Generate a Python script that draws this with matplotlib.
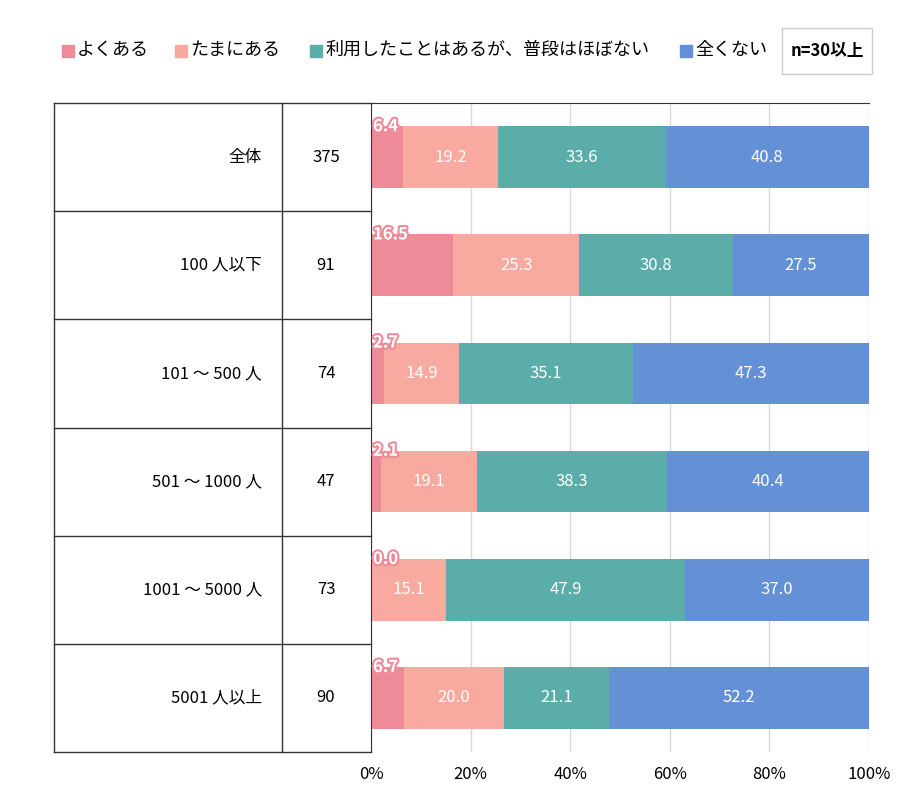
import matplotlib.pyplot as plt
import matplotlib.patheffects as pe
from matplotlib.lines import Line2D
from matplotlib.patches import Rectangle
import numpy as np

plt.rcParams['font.family'] = ['Noto Sans CJK JP', 'DejaVu Sans']

groups = ['全体', '100 人以下', '101 ～ 500 人', '501 ～ 1000 人', '1001 ～ 5000 人', '5001 人以上']
counts = [375, 91, 74, 47, 73, 90]
series = ['よくある', 'たまにある', '利用したことはあるが、普段はほぼない', '全くない']
values = [
    [6.4, 16.5, 2.7, 2.1, 0.0, 6.7],
    [19.2, 25.3, 14.9, 19.1, 15.1, 20.0],
    [33.6, 30.8, 35.1, 38.3, 47.9, 21.1],
    [40.8, 27.5, 47.3, 40.4, 37.0, 52.2],
]
colors = ['#EE8B98', '#F8A9A0', '#5AADA9', '#6490D6']

W, H = 900, 802
fig = plt.figure(figsize=(9, 8.02), dpi=100)

def fx(px):
    return px / W

def fy(py):
    return 1 - py / H

ax = fig.add_axes([fx(371), fy(752), fx(869) - fx(371), fy(103) - fy(752)])
n = len(groups)
y = np.arange(n)
left = np.zeros(n)
for i, (vals, c) in enumerate(zip(values, colors)):
    vals = np.array(vals)
    ax.barh(y, vals, left=left, height=0.57, color=c, zorder=2)
    for yi, v, l in zip(y, vals, left):
        if i == 0:
            ax.text(l + 0.4, yi - 0.285, f'{v:.1f}', ha='left', va='center', color='white',
                    fontsize=12, fontweight='bold', zorder=4,
                    path_effects=[pe.withStroke(linewidth=3, foreground=c)])
        else:
            ax.text(l + v / 2, yi, f'{v:.1f}', ha='center', va='center', color='white',
                    fontsize=12, zorder=4)
    left += vals

ax.set_xlim(0, 100)
ax.set_ylim(n - 0.5, -0.5)
ax.set_yticks([])
ax.set_xticks([0, 20, 40, 60, 80, 100])
ax.set_xticklabels(['0%', '20%', '40%', '60%', '80%', '100%'], fontsize=12)
ax.tick_params(axis='x', length=0, pad=10)
ax.grid(axis='x', color='#d9d9d9', linewidth=1, zorder=0)
for s in ['right', 'bottom']:
    ax.spines[s].set_visible(False)
ax.spines['top'].set_color('#333333')
ax.spines['left'].set_color('#333333')

# table lines
lc = '#333333'
fig.add_artist(Line2D([fx(54), fx(371)], [fy(103), fy(103)], color=lc, lw=1))
fig.add_artist(Line2D([fx(54), fx(54)], [fy(103), fy(752)], color=lc, lw=1))
fig.add_artist(Line2D([fx(282), fx(282)], [fy(103), fy(752)], color=lc, lw=1))
row_h = (752 - 103) / n
for k in range(1, n + 1):
    yy = 103 + k * row_h
    fig.add_artist(Line2D([fx(54), fx(371)], [fy(yy), fy(yy)], color=lc, lw=1))
for k, (g, c) in enumerate(zip(groups, counts)):
    yc = 103 + (k + 0.5) * row_h
    fig.text(fx(262), fy(yc), g, ha='right', va='center', fontsize=12)
    fig.text(fx(326), fy(yc), str(c), ha='center', va='center', fontsize=12)

# legend
lx = [62, 175, 310, 680]
for x0, s, c in zip(lx, series, colors):
    fig.add_artist(Rectangle((fx(x0), fy(57)), fx(12), 12 / H, color=c))
    fig.text(fx(x0 + 15), fy(50), s, ha='left', va='center', fontsize=13)
fig.add_artist(Rectangle((fx(782), fy(74)), fx(90), 46 / H, fill=False, edgecolor='#cccccc', lw=1))
fig.text(fx(827), fy(51), 'n=30以上', ha='center', va='center', fontsize=12, fontweight='bold')

fig.savefig('out.png', dpi=100)
